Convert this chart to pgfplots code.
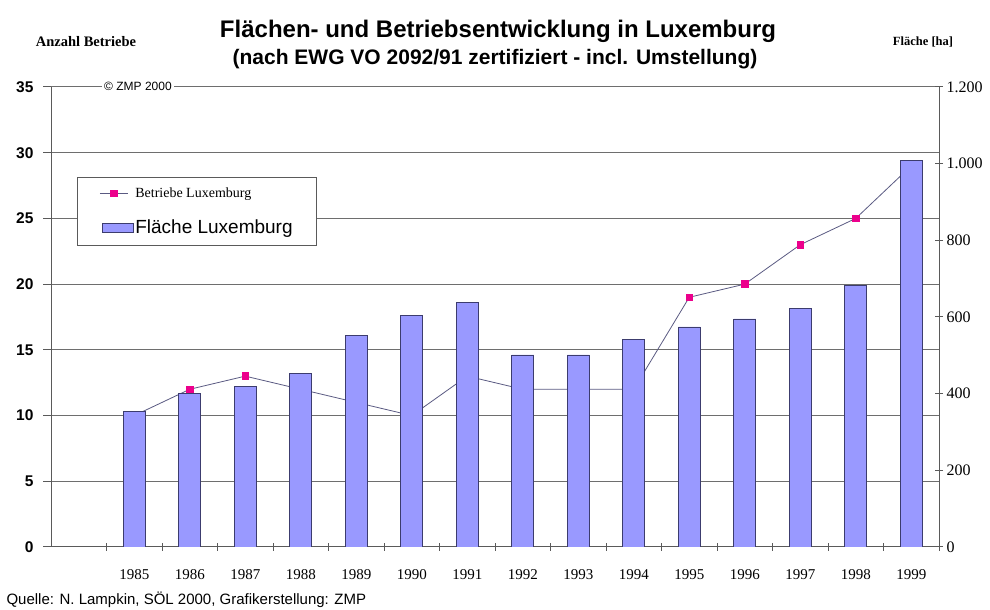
\documentclass[border=0pt]{standalone}
\usepackage{fontspec}
\setmainfont{Liberation Serif}
\setsansfont{Liberation Sans}
\usepackage{pgfplots}
\pgfplotsset{compat=1.18}

\definecolor{barfill}{RGB}{153,153,255}
\definecolor{bardraw}{RGB}{60,60,110}
\definecolor{linecol}{RGB}{90,90,130}
\definecolor{gridcol}{RGB}{110,110,110}
\definecolor{axiscol}{RGB}{90,90,90}

\pgfplotsset{
  barlegend/.style={legend image code/.code={\draw[##1] (2pt,-4.5pt) rectangle (33pt,4.5pt);}},
  linelegend/.style={legend image code/.code={\draw[mark repeat=2,mark phase=2,##1]
    plot coordinates {(0pt,0pt) (14pt,0pt) (28pt,0pt)};}},
}

\begin{document}
\begin{tikzpicture}[x=1pt,y=1pt]
\useasboundingbox (0,0) rectangle (990,610);

\pgfplotsset{every axis/.append style={
  scale only axis, width=888pt, height=460pt,
  at={(51pt,63pt)}, anchor=south west,
  xmin=-0.5, xmax=15.5, ymin=0,
  axis line style={axiscol, line width=1pt},
  tick style={axiscol, line width=1pt},
  major tick length=8pt,
}}

% Anzahl Betriebe (linke Achse), Linie unter den Balken
\begin{axis}[
  ymax=35, ytick={0,5,...,35},
  axis x line*=bottom, axis y line*=left,
  ymajorgrids, grid style={gridcol, line width=1pt},
  ytick align=outside, xtick align=center,
  xtick={0.5,1.5,...,15.5}, x tick label as interval,
  xticklabels={1985,1986,1987,1988,1989,1990,1991,1992,1993,1994,1995,1996,1997,1998,1999},
  x tick label style={font=\fontsize{15}{15}\selectfont, yshift=-15pt},
  y tick label style={font=\sffamily\bfseries\fontsize{15.5}{15.5}\selectfont, xshift=-6pt},
  /pgf/number format/assume math mode=true,
]
\addplot[linecol, line width=0.8pt, mark=square*, mark size=3.3pt,
  mark options={fill=magenta, draw=magenta}]
  coordinates {(1,10)(2,12)(3,13)(4,12)(5,11)(6,10)(7,13)(8,12)(9,12)(10,12)
               (11,19)(12,20)(13,23)(14,25)(15,29)};
\end{axis}

% Flaeche (rechte Achse), Balken
\begin{axis}[
  ymax=1200, ytick={0,200,...,1200},
  axis y line*=right, hide x axis,
  ytick align=center,
  y tick label style={font=\fontsize{16}{16}\selectfont},
  /pgf/number format/1000 sep={.},
  /pgf/number format/assume math mode=true,
  legend style={at={(0.0293,0.804)}, anchor=north west, draw=axiscol,
    line width=1pt, fill=white, inner xsep=22pt, inner ysep=8pt,
    row sep=17pt, cells={anchor=west}},
  legend cell align=left,
]
\addlegendimage{linecol, line width=0.8pt, mark=square*, mark size=3.3pt,
  mark options={fill=magenta, draw=magenta}, linelegend}
\addlegendentry{\fontsize{14}{14}\selectfont Betriebe Luxemburg}
\addplot[ybar, bar width=22pt, fill=barfill, draw=bardraw, line width=0.8pt, barlegend]
  coordinates {(1,353)(2,400)(3,418)(4,453)(5,552)(6,605)(7,637)(8,501)(9,501)
               (10,542)(11,574)(12,595)(13,622)(14,682)(15,1008)};
\addlegendentry{\sffamily\fontsize{19}{19}\selectfont Fläche Luxemburg\hspace{5pt}}
\end{axis}

\node[fill=white, inner sep=2pt, font=\sffamily\fontsize{12}{12}\selectfont] at (138,524) {© ZMP 2000};
\node[font=\sffamily\bfseries\fontsize{24}{24}\selectfont] at (498,579) {Flächen- und Betriebsentwicklung in Luxemburg};
\node[font=\sffamily\bfseries\fontsize{21}{21}\selectfont] at (495,551) {(nach EWG VO 2092/91 zertifiziert - incl. Umstellung)};
\node[font=\bfseries\fontsize{14.5}{14.5}\selectfont] at (86,568) {Anzahl Betriebe};
\node[font=\bfseries\fontsize{12.5}{12.5}\selectfont] at (923,568) {Fläche [ha]};
\node[anchor=west, font=\sffamily\fontsize{15}{15}\selectfont] at (3,10) {Quelle: N. Lampkin, SÖL 2000, Grafikerstellung: ZMP};
\end{tikzpicture}
\end{document}
